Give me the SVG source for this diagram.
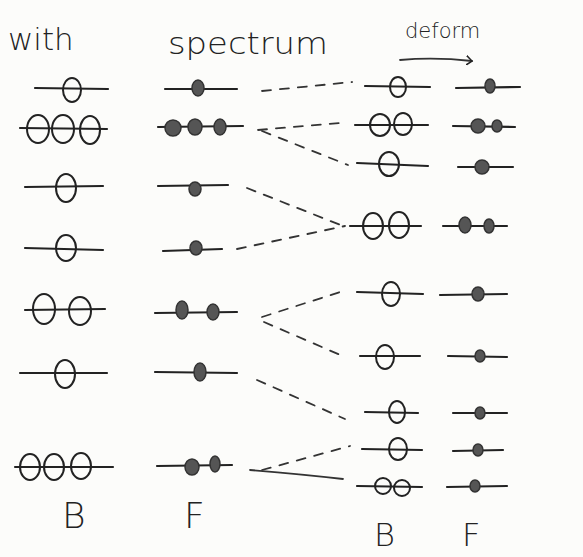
<svg xmlns="http://www.w3.org/2000/svg" width="583" height="557" viewBox="0 0 583 557">
<style>
.ln{stroke:#222;stroke-width:2.2;fill:none;stroke-linecap:round}
.o{stroke:#222;stroke-width:2;fill:none}
.d{stroke:#333;stroke-width:1.5;fill:#555}
.c{stroke:#333;stroke-width:1.8;fill:none;stroke-dasharray:9 9;stroke-linecap:round}
.s{stroke:#333;stroke-width:1.8;fill:none;stroke-linecap:round}
.t{font-family:"DejaVu Sans","Liberation Sans",sans-serif;font-weight:300;fill:#222}
</style>
<defs>
<marker id="ah" markerWidth="8" markerHeight="10" refX="6" refY="5" orient="auto" markerUnits="userSpaceOnUse"><path d="M0,0 L6,5 L0,10" fill="none" stroke="#222" stroke-width="1.5"/></marker>
</defs>
<rect width="583" height="557" fill="#fcfcfa"/>
<text class="t" x="8" y="50" font-size="31">with</text>
<text class="t" x="168" y="54" font-size="30" textLength="160" lengthAdjust="spacingAndGlyphs">spectrum</text>
<text class="t" x="405" y="38" font-size="21">deform</text>
<path class="s" d="M400,60 Q435,57 472,61" marker-end="url(#ah)"/>
<g id="B1">
<line class="ln" x1="35" y1="88" x2="108" y2="89"/><ellipse class="o" cx="72" cy="90" rx="9" ry="12"/>
</g>
<g id="B2">
<line class="ln" x1="20" y1="128" x2="107" y2="129"/><ellipse class="o" cx="38" cy="129" rx="11" ry="14"/><ellipse class="o" cx="63" cy="129" rx="11" ry="14"/><ellipse class="o" cx="90" cy="130" rx="10" ry="14"/>
</g>
<g id="B3">
<line class="ln" x1="25" y1="187" x2="103" y2="186"/><ellipse class="o" cx="66" cy="188" rx="10" ry="14"/>
</g>
<g id="B4">
<line class="ln" x1="25" y1="248" x2="103" y2="250"/><ellipse class="o" cx="66" cy="248" rx="10" ry="13"/>
</g>
<g id="B5">
<line class="ln" x1="25" y1="310" x2="105" y2="309"/><ellipse class="o" cx="44" cy="309" rx="11" ry="15"/><ellipse class="o" cx="80" cy="311" rx="11" ry="14"/>
</g>
<g id="B6">
<line class="ln" x1="20" y1="373" x2="107" y2="373"/><ellipse class="o" cx="65" cy="374" rx="10" ry="14"/>
</g>
<g id="B7">
<line class="ln" x1="15" y1="467" x2="113" y2="467"/><ellipse class="o" cx="30" cy="467" rx="10" ry="13"/><ellipse class="o" cx="54" cy="467" rx="10" ry="13"/><ellipse class="o" cx="81" cy="466" rx="10" ry="13"/>
</g>
<text class="t" x="62" y="528" font-size="36">B</text>
<g id="F1">
<line class="ln" x1="165" y1="89" x2="237" y2="89"/><ellipse class="d" cx="198" cy="88" rx="6" ry="8"/>
</g>
<g id="F2">
<line class="ln" x1="158" y1="127" x2="243" y2="126"/><ellipse class="d" cx="173" cy="128" rx="8" ry="8"/><ellipse class="d" cx="195" cy="127" rx="7" ry="8"/><ellipse class="d" cx="220" cy="127" rx="6" ry="8"/>
</g>
<g id="F3">
<line class="ln" x1="158" y1="186" x2="228" y2="185"/><ellipse class="d" cx="195" cy="189" rx="6" ry="7"/>
</g>
<g id="F4">
<line class="ln" x1="163" y1="251" x2="222" y2="249"/><ellipse class="d" cx="196" cy="248" rx="6" ry="7"/>
</g>
<g id="F5">
<line class="ln" x1="155" y1="313" x2="237" y2="312"/><ellipse class="d" cx="182" cy="310" rx="6" ry="9"/><ellipse class="d" cx="213" cy="312" rx="6" ry="8"/>
</g>
<g id="F6">
<line class="ln" x1="155" y1="372" x2="237" y2="373"/><ellipse class="d" cx="200" cy="372" rx="6" ry="9"/>
</g>
<g id="F7">
<line class="ln" x1="157" y1="466" x2="232" y2="465"/><ellipse class="d" cx="192" cy="467" rx="7" ry="8"/><ellipse class="d" cx="215" cy="464" rx="5" ry="8"/>
</g>
<text class="t" x="184" y="528" font-size="36">F</text>
<g id="RB1">
<line class="ln" x1="365" y1="86" x2="430" y2="87"/><ellipse class="o" cx="398" cy="87" rx="8" ry="10"/>
</g>
<g id="RB2">
<line class="ln" x1="355" y1="125" x2="428" y2="125"/><ellipse class="o" cx="380" cy="125" rx="10" ry="11"/><ellipse class="o" cx="403" cy="124" rx="9" ry="11"/>
</g>
<g id="RB3">
<line class="ln" x1="357" y1="163" x2="428" y2="166"/><ellipse class="o" cx="389" cy="164" rx="10" ry="12"/>
</g>
<g id="RB4">
<line class="ln" x1="350" y1="226" x2="421" y2="226"/><ellipse class="o" cx="373" cy="226" rx="10" ry="13"/><ellipse class="o" cx="399" cy="225" rx="10" ry="13"/>
</g>
<g id="RB5">
<line class="ln" x1="357" y1="292" x2="423" y2="294"/><ellipse class="o" cx="391" cy="294" rx="9" ry="12"/>
</g>
<g id="RB6">
<line class="ln" x1="360" y1="356" x2="420" y2="356"/><ellipse class="o" cx="385" cy="357" rx="9" ry="12"/>
</g>
<g id="RB7">
<line class="ln" x1="365" y1="412" x2="418" y2="413"/><ellipse class="o" cx="397" cy="412" rx="8" ry="11"/>
</g>
<g id="RB8">
<line class="ln" x1="362" y1="449" x2="422" y2="450"/><ellipse class="o" cx="398" cy="449" rx="9" ry="11" fill="#777" fill-opacity="0.6"/>
</g>
<g id="RB9">
<line class="ln" x1="357" y1="486" x2="422" y2="487"/><ellipse class="o" cx="383" cy="486" rx="8" ry="8"/><ellipse class="o" cx="402" cy="488" rx="8" ry="8"/>
</g>
<text class="t" x="374" y="546" font-size="32">B</text>
<g id="RF1">
<line class="ln" x1="456" y1="88" x2="520" y2="87"/><ellipse class="d" cx="490" cy="86" rx="5" ry="7"/>
</g>
<g id="RF2">
<line class="ln" x1="453" y1="126" x2="515" y2="127"/><ellipse class="d" cx="478" cy="126" rx="7" ry="7"/><ellipse class="d" cx="497" cy="126" rx="5" ry="6"/>
</g>
<g id="RF3">
<line class="ln" x1="458" y1="167" x2="513" y2="167"/><ellipse class="d" cx="482" cy="167" rx="7" ry="7"/>
</g>
<g id="RF4">
<line class="ln" x1="443" y1="226" x2="507" y2="226"/><ellipse class="d" cx="465" cy="225" rx="6" ry="8"/><ellipse class="d" cx="489" cy="226" rx="5" ry="7"/>
</g>
<g id="RF5">
<line class="ln" x1="440" y1="295" x2="507" y2="294"/><ellipse class="d" cx="478" cy="294" rx="6" ry="7"/>
</g>
<g id="RF6">
<line class="ln" x1="448" y1="356" x2="507" y2="357"/><ellipse class="d" cx="480" cy="356" rx="5" ry="6"/>
</g>
<g id="RF7">
<line class="ln" x1="453" y1="413" x2="507" y2="413"/><ellipse class="d" cx="480" cy="413" rx="5" ry="6"/>
</g>
<g id="RF8">
<line class="ln" x1="453" y1="451" x2="503" y2="450"/><ellipse class="d" cx="478" cy="450" rx="5" ry="6"/>
</g>
<g id="RF9">
<line class="ln" x1="447" y1="487" x2="507" y2="486"/><ellipse class="d" cx="475" cy="486" rx="5" ry="6"/>
</g>
<text class="t" x="462" y="546" font-size="32">F</text>
<g id="connectors">
<path class="c" d="M262,91 L352,82"/>
<path class="c" d="M258,130 L340,123"/>
<path class="c" d="M262,131 L348,165"/>
<path class="c" d="M247,188 L343,226"/>
<path class="c" d="M237,249 L345,226"/>
<path class="c" d="M262,317 L340,292"/>
<path class="c" d="M264,322 L345,357"/>
<path class="c" d="M257,380 L345,419"/>
<path class="c" d="M262,470 L350,446"/>
<path class="s" d="M250,470 Q300,474 343,479"/>
</g>
</svg>
